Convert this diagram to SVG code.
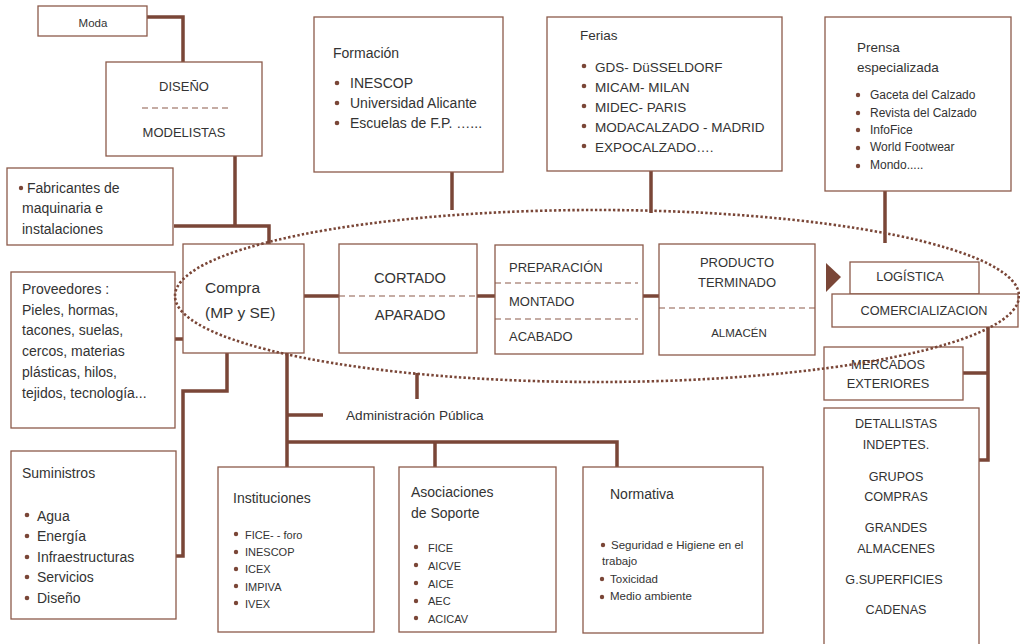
<svg xmlns="http://www.w3.org/2000/svg" width="1020" height="644" viewBox="0 0 1020 644">
<style>
.b{fill:#fff;stroke:#8c5a4a;stroke-width:1.3}
.c{fill:none;stroke:#7a4637;stroke-width:3.5}
.d{stroke:#8c5a4a;stroke-width:1.2;stroke-dasharray:6 4;fill:none}
text{font-family:"Liberation Sans",Arial,sans-serif;fill:#333}
.m{text-anchor:middle}
.dot{fill:#7a4637}
</style>
<rect width="1020" height="644" fill="#fff"/>
<g id="connectors">
<path class="c" d="M147 17H183V62"/>
<path class="c" d="M235 156V226M174 226H269V244"/>
<path class="c" d="M452 172V210"/>
<path class="c" d="M651 171V213"/>
<path class="c" d="M885 191V243"/>
<path class="c" d="M304 296H339M477 296H495M643 296H659"/>
<path class="c" d="M150 339H203"/>
<path class="c" d="M227 353V391H183V556H176"/>
<path class="c" d="M287 353V467M287 415H323M287 442H617V467M435 442V467"/>
<path class="c" d="M417 373V399"/>
<path class="c" d="M988 327V460H979M988 373H963"/>
<polygon points="826,263 826,292 841,277" fill="#7a4637"/>
</g>
<g id="moda"><rect class="b" x="38" y="6" width="109" height="30"/><text class="m" x="93" y="27" font-size="11.5">Moda</text></g>
<g id="diseno"><rect class="b" x="106" y="62" width="156" height="94"/><text class="m" x="184" y="91" font-size="13">DISEÑO</text><line class="d" x1="142" y1="108" x2="228" y2="108"/><text class="m" x="184" y="137" font-size="13">MODELISTAS</text></g>
<g id="fabricantes"><rect class="b" x="7" y="168" width="166" height="77"/><circle class="dot" cx="21" cy="188" r="2.2"/><text font-size="14"><tspan x="27" y="193">Fabricantes de</tspan><tspan x="22" y="213">maquinaria e</tspan><tspan x="22" y="234">instalaciones</tspan></text></g>
<g id="formacion"><rect class="b" x="314" y="17" width="189" height="155"/><text x="333" y="58" font-size="14">Formación</text>
<circle class="dot" cx="337" cy="83" r="2.3"/><circle class="dot" cx="337" cy="103" r="2.3"/><circle class="dot" cx="337" cy="123" r="2.3"/>
<text font-size="14"><tspan x="350" y="88">INESCOP</tspan><tspan x="350" y="108">Universidad Alicante</tspan><tspan x="350" y="128">Escuelas de F.P. …...</tspan></text></g>
<g id="ferias"><rect class="b" x="547" y="17" width="235" height="154"/><text x="580" y="40" font-size="13.5">Ferias</text>
<circle class="dot" cx="584" cy="66" r="2.3"/><circle class="dot" cx="584" cy="86" r="2.3"/><circle class="dot" cx="584" cy="106" r="2.3"/><circle class="dot" cx="584" cy="126" r="2.3"/><circle class="dot" cx="584" cy="146" r="2.3"/>
<text font-size="13.5"><tspan x="595" y="72">GDS- DüSSELDORF</tspan><tspan x="595" y="92">MICAM- MILAN</tspan><tspan x="595" y="112">MIDEC- PARIS</tspan><tspan x="595" y="132">MODACALZADO - MADRID</tspan><tspan x="595" y="152">EXPOCALZADO….</tspan></text></g>
<g id="prensa"><rect class="b" x="825" y="17" width="186" height="174"/><text font-size="13.5"><tspan x="857" y="52">Prensa</tspan><tspan x="857" y="72">especializada</tspan></text>
<circle class="dot" cx="858" cy="95" r="2.2"/><circle class="dot" cx="858" cy="113" r="2.2"/><circle class="dot" cx="858" cy="130" r="2.2"/><circle class="dot" cx="858" cy="148" r="2.2"/><circle class="dot" cx="858" cy="166" r="2.2"/>
<text font-size="12"><tspan x="870" y="99">Gaceta  del Calzado</tspan><tspan x="870" y="117">Revista del  Calzado</tspan><tspan x="870" y="134">InfoFice</tspan><tspan x="870" y="151">World Footwear</tspan><tspan x="870" y="169">Mondo.....</tspan></text></g>
<g id="proveedores"><rect class="b" x="11" y="272" width="164" height="156"/><text font-size="14"><tspan x="22" y="294">Proveedores  :</tspan><tspan x="22" y="315">Pieles, hormas,</tspan><tspan x="22" y="335">tacones, suelas,</tspan><tspan x="22" y="356">cercos, materias</tspan><tspan x="22" y="377">plásticas, hilos,</tspan><tspan x="22" y="398">tejidos,  tecnología...</tspan></text></g>
<g id="compra"><rect class="b" x="183" y="244" width="121" height="109"/><text font-size="15.5"><tspan x="205" y="293">Compra</tspan><tspan x="205" y="318">(MP y SE)</tspan></text></g>
<g id="cortado"><rect class="b" x="339" y="244" width="138" height="109"/><text class="m" x="410" y="283" font-size="14.7">CORTADO</text><line class="d" x1="339" y1="296" x2="477" y2="296"/><text class="m" x="410" y="320" font-size="14.7">APARADO</text></g>
<g id="preparacion"><rect class="b" x="495" y="245" width="148" height="109"/><line class="d" x1="495" y1="283" x2="638" y2="283"/><line class="d" x1="495" y1="319" x2="638" y2="319"/><text font-size="13"><tspan x="509" y="272">PREPARACIÓN</tspan><tspan x="509" y="306">MONTADO</tspan><tspan x="509" y="341">ACABADO</tspan></text></g>
<g id="producto"><rect class="b" x="659" y="244" width="156" height="111"/><text class="m" font-size="13"><tspan x="737" y="267">PRODUCTO</tspan><tspan x="737" y="287">TERMINADO</tspan></text><line class="d" x1="659" y1="308" x2="815" y2="308"/><text class="m" x="739" y="337" font-size="11.5">ALMACÉN</text></g>
<g id="logistica"><rect class="b" x="850" y="262" width="129" height="32"/><text class="m" x="910" y="281" font-size="12.7">LOGÍSTICA</text></g>
<g id="comercializacion"><rect class="b" x="832" y="294" width="186" height="33"/><text class="m" x="924" y="315" font-size="12.7">COMERCIALIZACION</text></g>
<g id="mercados"><rect class="b" x="824" y="347" width="139" height="53"/><text class="m" font-size="12.8"><tspan x="888" y="369">MERCADOS</tspan><tspan x="888" y="388">EXTERIORES</tspan></text></g>
<g id="detallistas"><rect class="b" x="824" y="408" width="155" height="250"/><text class="m" font-size="12.6"><tspan x="896" y="428">DETALLISTAS</tspan><tspan x="896" y="449">INDEPTES.</tspan><tspan x="896" y="481">GRUPOS</tspan><tspan x="896" y="501">COMPRAS</tspan><tspan x="896" y="532">GRANDES</tspan><tspan x="896" y="553">ALMACENES</tspan><tspan x="894" y="584">G.SUPERFICIES</tspan><tspan x="896" y="614">CADENAS</tspan></text></g>
<g id="administracion"><text x="346" y="420" font-size="13.6">Administración Pública</text></g>
<g id="suministros"><rect class="b" x="11" y="451" width="165" height="168"/><text x="22" y="478" font-size="14">Suministros</text>
<circle class="dot" cx="27" cy="515" r="2.3"/><circle class="dot" cx="27" cy="536" r="2.3"/><circle class="dot" cx="27" cy="557" r="2.3"/><circle class="dot" cx="27" cy="577" r="2.3"/><circle class="dot" cx="27" cy="598" r="2.3"/>
<text font-size="14"><tspan x="37" y="521">Agua</tspan><tspan x="37" y="541">Energía</tspan><tspan x="37" y="562">Infraestructuras</tspan><tspan x="37" y="582">Servicios</tspan><tspan x="37" y="603">Diseño</tspan></text></g>
<g id="instituciones"><rect class="b" x="218" y="467" width="156" height="165"/><text x="233" y="503" font-size="14">Instituciones</text>
<circle class="dot" cx="236" cy="534" r="2.2"/><circle class="dot" cx="236" cy="552" r="2.2"/><circle class="dot" cx="236" cy="569" r="2.2"/><circle class="dot" cx="236" cy="586" r="2.2"/><circle class="dot" cx="236" cy="603" r="2.2"/>
<text font-size="11"><tspan x="245" y="539">FICE-  - foro</tspan><tspan x="245" y="556">INESCOP</tspan><tspan x="245" y="573">ICEX</tspan><tspan x="245" y="591">IMPIVA</tspan><tspan x="245" y="608">IVEX</tspan></text></g>
<g id="asociaciones"><rect class="b" x="399" y="467" width="157" height="165"/><text font-size="14"><tspan x="411" y="497">Asociaciones</tspan><tspan x="411" y="518">de  Soporte</tspan></text>
<circle class="dot" cx="416" cy="547" r="2.2"/><circle class="dot" cx="416" cy="565" r="2.2"/><circle class="dot" cx="416" cy="583" r="2.2"/><circle class="dot" cx="416" cy="601" r="2.2"/><circle class="dot" cx="416" cy="618" r="2.2"/>
<text font-size="11"><tspan x="428" y="552">FICE</tspan><tspan x="428" y="570">AICVE</tspan><tspan x="428" y="588">AICE</tspan><tspan x="428" y="605">AEC</tspan><tspan x="428" y="623">ACICAV</tspan></text></g>
<g id="normativa"><rect class="b" x="583" y="467" width="180" height="166"/><text x="610" y="499" font-size="14">Normativa</text>
<circle class="dot" cx="603" cy="545" r="2.2"/><circle class="dot" cx="602" cy="579" r="2.2"/><circle class="dot" cx="602" cy="597" r="2.2"/>
<text font-size="11.5"><tspan x="611" y="549">Seguridad e Higiene en el</tspan><tspan x="602" y="565">trabajo</tspan><tspan x="610" y="583">Toxicidad</tspan><tspan x="610" y="600">Medio ambiente</tspan></text></g>
<g id="cluster"><ellipse cx="597" cy="296" rx="422" ry="86" fill="none" stroke="#7a4637" stroke-width="2.6" stroke-dasharray="2.4 2.2"/></g>
</svg>
